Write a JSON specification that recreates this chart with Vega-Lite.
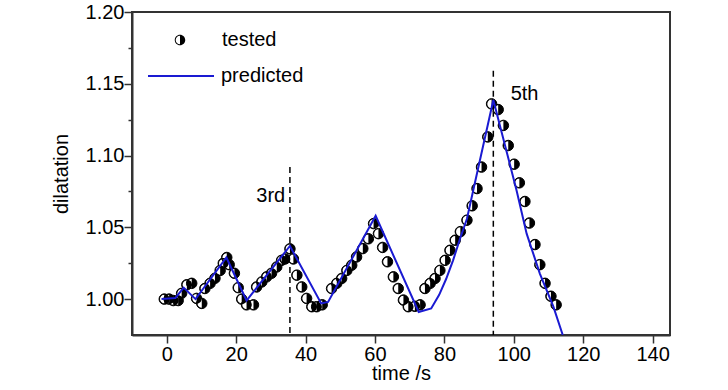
{
  "$schema": "https://vega.github.io/schema/vega-lite/v6.json",
  "width": 538,
  "height": 323,
  "autosize": "none",
  "padding": {"left": 132, "top": 12, "right": 58, "bottom": 55},
  "background": "white",
  "config": {
    "view": {"stroke": "#333", "strokeWidth": 2},
    "font": "Liberation Sans",
    "axis": {
      "labelFont": "Liberation Sans", "titleFont": "Liberation Sans",
      "labelFontSize": 20, "titleFontSize": 20, "titleFontWeight": "normal",
      "labelColor": "black", "titleColor": "black",
      "domainColor": "#333", "domainWidth": 2,
      "tickColor": "#333", "tickWidth": 1.5, "grid": false
    },
    "legend": {"labelFont": "Liberation Sans", "labelFontSize": 20, "labelColor": "black", "padding": 0}
  },
  "datasets": {
    "tested": [
      {"time": -0.7, "dilatation": 1.000}, {"time": 0.7, "dilatation": 1.000},
      {"time": 1.9, "dilatation": 0.999}, {"time": 3.3, "dilatation": 0.999},
      {"time": 4.3, "dilatation": 1.004}, {"time": 5.8, "dilatation": 1.010},
      {"time": 7.2, "dilatation": 1.011}, {"time": 8.6, "dilatation": 1.0005},
      {"time": 10.1, "dilatation": 0.997}, {"time": 11.0, "dilatation": 1.0074},
      {"time": 12.5, "dilatation": 1.011}, {"time": 13.9, "dilatation": 1.0145},
      {"time": 15.4, "dilatation": 1.020}, {"time": 16.3, "dilatation": 1.025},
      {"time": 17.3, "dilatation": 1.029}, {"time": 18.0, "dilatation": 1.024},
      {"time": 19.5, "dilatation": 1.018}, {"time": 20.6, "dilatation": 1.008},
      {"time": 21.6, "dilatation": 1.000}, {"time": 23.0, "dilatation": 0.996},
      {"time": 25.0, "dilatation": 0.996}, {"time": 25.9, "dilatation": 1.0085},
      {"time": 27.4, "dilatation": 1.012}, {"time": 28.8, "dilatation": 1.0155},
      {"time": 30.2, "dilatation": 1.018}, {"time": 31.7, "dilatation": 1.0224},
      {"time": 33.1, "dilatation": 1.027}, {"time": 34.1, "dilatation": 1.028},
      {"time": 35.5, "dilatation": 1.035}, {"time": 36.5, "dilatation": 1.028},
      {"time": 37.5, "dilatation": 1.0167}, {"time": 38.9, "dilatation": 1.0085},
      {"time": 40.3, "dilatation": 1.0005}, {"time": 41.8, "dilatation": 0.9947},
      {"time": 43.2, "dilatation": 0.9947}, {"time": 44.8, "dilatation": 0.996},
      {"time": 47.5, "dilatation": 1.0074}, {"time": 49.0, "dilatation": 1.011},
      {"time": 50.4, "dilatation": 1.0144}, {"time": 51.9, "dilatation": 1.020},
      {"time": 53.3, "dilatation": 1.0236}, {"time": 54.7, "dilatation": 1.0294},
      {"time": 56.5, "dilatation": 1.0352}, {"time": 58.1, "dilatation": 1.042},
      {"time": 59.6, "dilatation": 1.0526}, {"time": 61.0, "dilatation": 1.0456},
      {"time": 62.2, "dilatation": 1.036}, {"time": 63.6, "dilatation": 1.026},
      {"time": 65.3, "dilatation": 1.0155}, {"time": 66.7, "dilatation": 1.0074},
      {"time": 68.2, "dilatation": 0.9993}, {"time": 69.6, "dilatation": 0.9947},
      {"time": 71.5, "dilatation": 0.995}, {"time": 73.0, "dilatation": 0.996},
      {"time": 74.4, "dilatation": 1.0074}, {"time": 75.9, "dilatation": 1.011},
      {"time": 77.3, "dilatation": 1.0144}, {"time": 78.7, "dilatation": 1.020},
      {"time": 80.2, "dilatation": 1.027}, {"time": 81.6, "dilatation": 1.034},
      {"time": 83.1, "dilatation": 1.041}, {"time": 84.6, "dilatation": 1.047},
      {"time": 86.5, "dilatation": 1.055}, {"time": 88.0, "dilatation": 1.065},
      {"time": 89.4, "dilatation": 1.077}, {"time": 90.7, "dilatation": 1.092},
      {"time": 92.5, "dilatation": 1.113}, {"time": 93.6, "dilatation": 1.136},
      {"time": 95.5, "dilatation": 1.132}, {"time": 97.0, "dilatation": 1.121},
      {"time": 98.4, "dilatation": 1.107}, {"time": 100.1, "dilatation": 1.094},
      {"time": 101.6, "dilatation": 1.081}, {"time": 103.2, "dilatation": 1.068},
      {"time": 104.5, "dilatation": 1.053}, {"time": 106.1, "dilatation": 1.038},
      {"time": 107.5, "dilatation": 1.024}, {"time": 109.0, "dilatation": 1.011},
      {"time": 110.7, "dilatation": 1.002}, {"time": 112.2, "dilatation": 0.996}
    ],
    "predicted": [
      {"time": -1.5, "dilatation": 1.000}, {"time": 2.5, "dilatation": 1.0008},
      {"time": 4.9, "dilatation": 1.008}, {"time": 8.3, "dilatation": 1.000},
      {"time": 17.2, "dilatation": 1.029}, {"time": 23.0, "dilatation": 0.999},
      {"time": 35.5, "dilatation": 1.037}, {"time": 44.5, "dilatation": 0.997},
      {"time": 46.5, "dilatation": 0.998}, {"time": 60.2, "dilatation": 1.058},
      {"time": 72.6, "dilatation": 0.991}, {"time": 76.2, "dilatation": 0.9935},
      {"time": 78.5, "dilatation": 1.003}, {"time": 80.5, "dilatation": 1.014},
      {"time": 82.5, "dilatation": 1.027}, {"time": 84.5, "dilatation": 1.042},
      {"time": 86.5, "dilatation": 1.056}, {"time": 88.3, "dilatation": 1.0757},
      {"time": 94.1, "dilatation": 1.1387}, {"time": 100.8, "dilatation": 1.0757},
      {"time": 103.7, "dilatation": 1.0456}, {"time": 107.5, "dilatation": 1.0178},
      {"time": 111.4, "dilatation": 0.9947}, {"time": 114.1, "dilatation": 0.975}
    ],
    "cycles": [
      {"time": 35.5, "top": 1.092, "label": "3rd", "labelTime": 25.8, "labelY": 1.072},
      {"time": 94.1, "top": 1.159, "label": "5th", "labelTime": 99.1, "labelY": 1.143}
    ]
  },
  "layer": [
    {
      "data": {"name": "cycles"},
      "mark": {"type": "rule", "color": "black", "strokeWidth": 1.5, "strokeDash": [6, 4]},
      "encoding": {
        "x": {
          "field": "time", "type": "quantitative",
          "scale": {"domain": [-10, 145], "nice": false, "zero": false},
          "axis": {
            "title": "time /s",
            "values": [0, 10, 20, 30, 40, 50, 60, 70, 80, 90, 100, 110, 120, 130, 140],
            "labelExpr": "datum.value % 20 === 0 ? datum.label : ''",
            "tickSize": {"condition": {"test": "datum.value % 20 === 0", "value": 8}, "value": 4},
            "labelPadding": 1,
            "titlePadding": -1
          }
        },
        "y": {
          "field": "top", "type": "quantitative",
          "scale": {"domain": [0.975, 1.2], "nice": false, "zero": false},
          "axis": {
            "title": "dilatation",
            "values": [1.0, 1.025, 1.05, 1.075, 1.1, 1.125, 1.15, 1.175, 1.2],
            "format": ".2f",
            "labelExpr": "round(datum.value * 1000) % 50 === 0 ? datum.label : ''",
            "tickSize": {"condition": {"test": "round(datum.value * 1000) % 50 === 0", "value": 8}, "value": 4},
            "labelPadding": 0,
            "titlePadding": 14
          }
        },
        "y2": {"datum": 0.975}
      }
    },
    {
      "data": {"name": "tested"},
      "mark": {"type": "point", "shape": "circle", "size": 110, "filled": false, "fill": "white", "fillOpacity": 1, "stroke": "black", "strokeWidth": 1, "opacity": 1},
      "encoding": {
        "x": {"field": "time", "type": "quantitative"},
        "y": {"field": "dilatation", "type": "quantitative"}
      }
    },
    {
      "data": {"name": "tested"},
      "mark": {"type": "point", "size": 110, "filled": true, "fill": "black", "opacity": 1},
      "encoding": {
        "x": {"field": "time", "type": "quantitative"},
        "y": {"field": "dilatation", "type": "quantitative"},
        "shape": {
          "datum": "tested",
          "scale": {"range": ["M0,-1C0.5523,-1 1,-0.5523 1,0C1,0.5523 0.5523,1 0,1C-0.5523,1 -1,0.5523 -1,0C-1,-0.5523 -0.5523,-1 0,-1ZM0,-0.82C-0.4529,-0.82 -0.82,-0.4529 -0.82,0C-0.82,0.4529 -0.4529,0.82 0,0.82C0.4529,0.82 0.82,0.4529 0.82,0C0.82,-0.4529 0.4529,-0.82 0,-0.82ZM0,-0.82C0.4529,-0.82 0.82,-0.4529 0.82,0C0.82,0.4529 0.4529,0.82 0,0.82Z"]},
          "legend": {
            "title": null, "orient": "none", "legendX": 38, "legendY": 18,
            "symbolSize": 110, "labelOffset": 32,
            "symbolFillColor": "black", "symbolOpacity": 1
          }
        }
      }
    },
    {
      "data": {"name": "predicted"},
      "mark": {"type": "line", "strokeWidth": 2, "clip": true},
      "encoding": {
        "x": {"field": "time", "type": "quantitative"},
        "y": {"field": "dilatation", "type": "quantitative"},
        "stroke": {
          "datum": "predicted",
          "scale": {"range": ["#1a1ad2"]},
          "legend": {
            "title": null, "orient": "none", "legendX": 15, "legendY": 30,
            "symbolType": "stroke", "symbolSize": 4356, "symbolStrokeWidth": 2, "labelOffset": 6
          }
        }
      }
    },
    {
      "data": {"name": "cycles"},
      "mark": {"type": "text", "align": "left", "baseline": "middle", "fontSize": 20, "font": "Liberation Sans", "color": "black"},
      "encoding": {
        "x": {"field": "labelTime", "type": "quantitative"},
        "y": {"field": "labelY", "type": "quantitative"},
        "text": {"field": "label"}
      }
    }
  ]
}
